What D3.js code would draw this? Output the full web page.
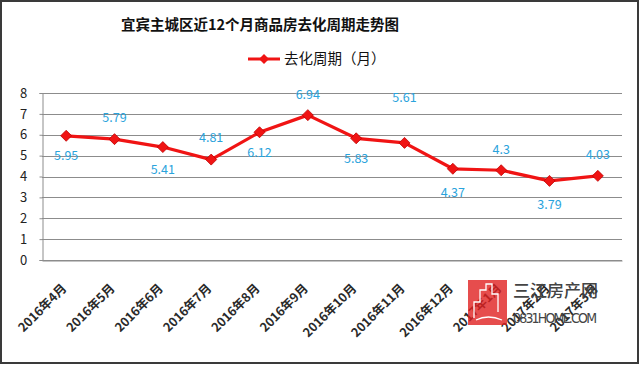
<!DOCTYPE html>
<html><head><meta charset="utf-8">
<script src="https://cdn.jsdelivr.net/npm/d3@7"></script>
<style>
html,body{margin:0;padding:0;background:#fff;}
svg{display:block;}
</style></head>
<body>
<svg id="chart" width="640" height="365"></svg>
<script>
const title = "宜宾主城区近12个月商品房去化周期走势图";
const seriesName = "去化周期（月）";
const months = ["2016年4月","2016年5月","2016年6月","2016年7月","2016年8月","2016年9月","2016年10月","2016年11月","2016年12月","2017年1月","2017年2月","2017年3月"];
const values = [5.95, 5.79, 5.41, 4.81, 6.12, 6.94, 5.83, 5.61, 4.37, 4.3, 3.79, 4.03];
const yTicks = [0,1,2,3,4,5,6,7,8];

const svg = d3.select("#chart");
const W = 640, H = 365;
const font = "'Noto Sans CJK SC', 'Noto Sans', sans-serif";
const plot = {left: 42, right: 622, top: 93, bottom: 260};

svg.append("rect").attr("x",0).attr("y",0).attr("width",W).attr("height",H).attr("fill","#fff");

const x = d3.scaleBand().domain(months).range([plot.left, plot.right]);
const y = d3.scaleLinear().domain([0, 8]).range([plot.bottom, plot.top]);
const cx = d => x(d) + x.bandwidth()/2;

// gridlines
svg.append("g").selectAll("line").data(yTicks).join("line")
  .attr("x1", plot.left).attr("x2", plot.right)
  .attr("y1", d => Math.round(y(d)) + 0.5).attr("y2", d => Math.round(y(d)) + 0.5)
  .attr("stroke", "#8c8c8c").attr("stroke-width", 1);

// y axis
const yAxis = svg.append("g").attr("transform", `translate(${plot.left + 0.5},0)`)
  .call(d3.axisLeft(y).tickValues(yTicks).tickSize(3).tickPadding(13).tickFormat(d3.format("d")));
yAxis.select(".domain").attr("stroke", "#8c8c8c");
yAxis.selectAll(".tick line").attr("stroke", "#8c8c8c");
yAxis.selectAll("text").attr("font-family", font).attr("font-size", 13).attr("fill", "#222").attr("text-anchor","middle").attr("x", -19);

// x axis labels
const xAxis = svg.append("g").attr("transform", `translate(0,${plot.bottom + 0.5})`)
  .call(d3.axisBottom(x).tickSize(0).tickFormat(""));
xAxis.select(".domain").attr("stroke", "#8c8c8c");
svg.append("g").selectAll("text").data(months).join("text")
  .attr("transform", d => `translate(${cx(d) - 2},${plot.bottom + 26}) rotate(-45)`)
  .attr("text-anchor", "end").attr("dy", "0.35em")
  .attr("font-family", font).attr("font-size", 12.5).attr("font-weight", "bold").attr("fill", "#2a2a2a")
  .text(d => d);

// line
const line = d3.line().x((d,i) => cx(months[i])).y(d => y(d));
svg.append("path").datum(values).attr("d", line)
  .attr("fill", "none").attr("stroke", "#f01414").attr("stroke-width", 3.2).attr("stroke-linejoin", "round");

// markers
svg.append("g").selectAll("path").data(values).join("path")
  .attr("transform", (d,i) => `translate(${cx(months[i])},${y(d)})`)
  .attr("d", "M0,-5.5L5.5,0L0,5.5L-5.5,0Z")
  .attr("fill", "#f01414").attr("stroke", "#c00000").attr("stroke-width", 0.8);

// data labels
const labelOffset = [20, -22, 23, -22, 20, -21, 20, -45, 24, -21, 24, -21];
svg.append("g").selectAll("text").data(values).join("text")
  .attr("x", (d,i) => cx(months[i]))
  .attr("y", (d,i) => y(d) + labelOffset[i])
  .attr("dy", "0.35em").attr("text-anchor", "middle")
  .attr("font-family", font).attr("font-size", 12.5).attr("fill", "#2aa3dc")
  .text(d => d);

// title
svg.append("text").attr("x", 260).attr("y", 25).attr("dy","0.35em").attr("text-anchor","middle")
  .attr("font-family", font).attr("font-size", 14.5).attr("font-weight","bold").attr("fill","#111")
  .text(title);

// legend
const lg = svg.append("g").attr("transform", "translate(248,59)");
lg.append("line").attr("x1",0).attr("x2",32).attr("y1",0).attr("y2",0).attr("stroke","#f01414").attr("stroke-width",3);
lg.append("path").attr("transform","translate(16,0)").attr("d","M0,-5L5,0L0,5L-5,0Z").attr("fill","#f01414");
lg.append("text").attr("x",36).attr("y",0).attr("dy","0.35em").attr("font-family",font).attr("font-size",14.5).attr("fill","#111").text(seriesName);

// watermark
const wm = svg.append("g").attr("transform","translate(468,280)");
wm.append("rect").attr("width",39).attr("height",45).attr("fill","#e02020").attr("opacity",0.8);
wm.append("path").attr("d","M6,38 L6,22 L12,22 L12,10 L18,10 L18,4 L24,4 L24,14 L30,14 L30,32 M8,40 Q20,34 34,40")
  .attr("fill","none").attr("stroke","#fff").attr("stroke-width",1.3);
wm.append("text").attr("x",45).attr("y",11).attr("dy","0.35em").attr("font-family",font).attr("font-size",17).attr("font-weight",500).attr("fill","#444").text("三江房产网");
wm.append("text").attr("x",45).attr("y",38).attr("dy","0.35em").attr("font-family","'Liberation Sans Narrow','DejaVu Sans Condensed',sans-serif").attr("font-size",14).attr("fill","#444").attr("textLength",84).text("0831HOME.COM");

// outer border
svg.append("rect").attr("x",1).attr("y",1).attr("width",W-3).attr("height",H-3)
  .attr("fill","none").attr("stroke","#3a3a3a").attr("stroke-width",2);
</script>
</body></html>
